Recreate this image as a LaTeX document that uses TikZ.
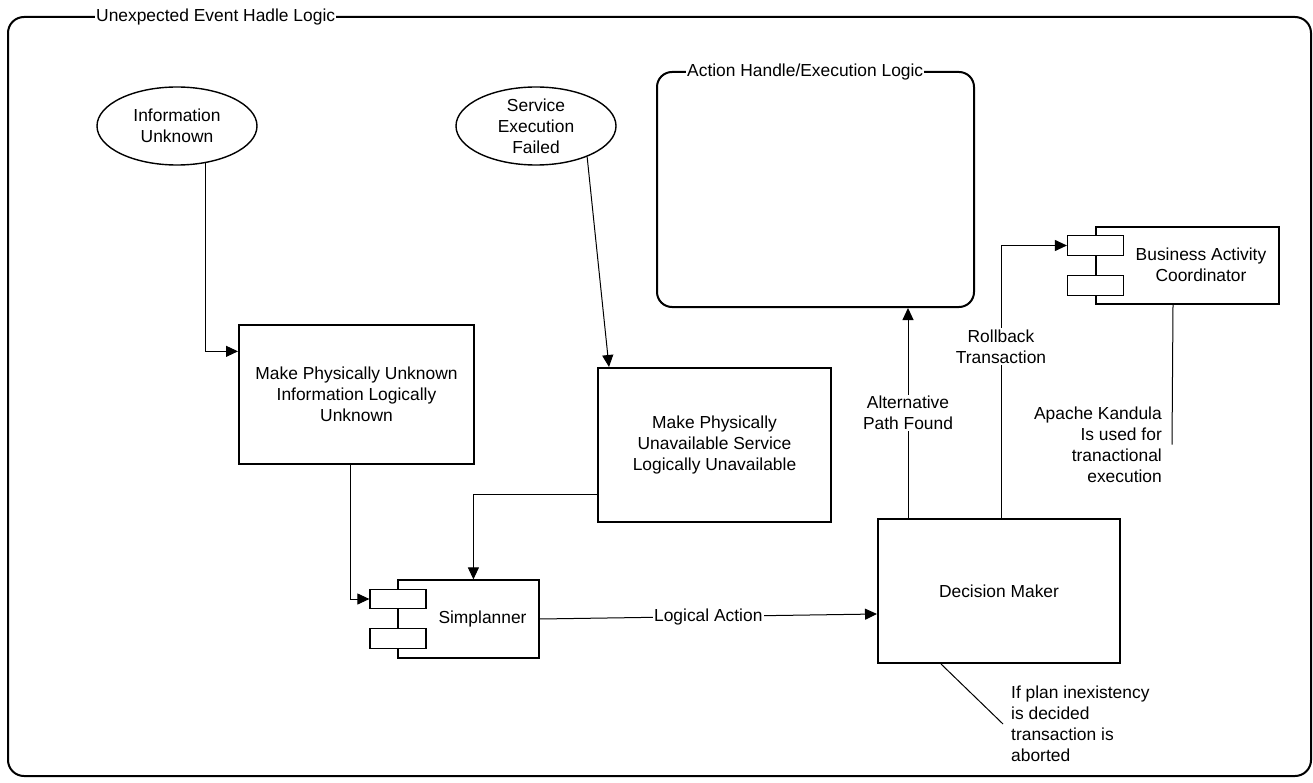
\documentclass[tikz,border=0pt]{standalone}
\usepackage{fontspec}
\setmainfont{Liberation Sans}
\usetikzlibrary{arrows.meta,calc,shapes.geometric}

\begin{document}
\begin{tikzpicture}[x=1pt,y=-1pt,
  every node/.style={font=\fontsize{17.4}{21}\selectfont},
  frame/.style={draw, line width=2pt, rounded corners=16pt, inner sep=0pt},
  frametitle/.style={fill=white, anchor=west, inner sep=1pt},
  event/.style={ellipse, draw, line width=1.4pt, minimum width=160pt, minimum height=78pt, inner sep=0pt, align=center},
  proc/.style={rectangle, draw, line width=2pt, align=center, inner sep=0pt},
  comp/.style={rectangle, draw, line width=1.2pt, inner sep=0pt},
  port/.style={rectangle, draw, fill=white, line width=1.2pt, minimum width=56pt, minimum height=19.5pt, inner sep=0pt},
  conn/.style={line width=1pt},
  arr/.style={conn, -{Triangle[length=12pt,width=11pt]}},
  lbl/.style={fill=white, inner sep=1.5pt, align=center},
  note/.style={inner sep=0pt},
]
\useasboundingbox (0,0) rectangle (1313,783);

% outer frame and nested frame
\node[frame, minimum width=1303pt, minimum height=759pt] (outer) at (659.5,396.5) {};
\node[frametitle] (outerT) at (95,17) {Unexpected Event Hadle Logic};
\node[frame, rounded corners=15pt, minimum width=317pt, minimum height=235pt] (ahl) at (815.5,189.5) {};
\node[frametitle] (ahlT) at (686,72) {Action Handle/Execution Logic};

% events
\node[event] (info) at (177,126) {Information\\Unknown};
\node[event] (sef) at (536,126) {Service\\Execution\\Failed};

% processes
\node[proc, minimum width=235pt, minimum height=139pt] (mpu) at (356.5,394.5)
  {Make Physically Unknown\\Information Logically\\Unknown};
\node[proc, minimum width=233pt, minimum height=154pt] (mpua) at (714.5,445)
  {Make Physically\\Unavailable Service\\Logically Unavailable};
\node[proc, minimum width=242pt, minimum height=144pt] (dm) at (999,591) {Decision Maker};

% components
\node[comp, minimum width=141pt, minimum height=78pt] (simp) at (468.5,619) {};
\node[port] (simpA) at (398,599) {};
\node[port] (simpB) at (398,638.5) {};
\node (simpT) at (482.5,619) {Simplanner};

\node[comp, minimum width=183pt, minimum height=77pt] (bac) at (1187.5,265.5) {};
\node[port] (bacA) at (1095.5,245.5) {};
\node[port] (bacB) at (1095.5,285.5) {};
\node[align=center] (bacT) at (1201,265) {Business Activity\\Coordinator};

% notes
\node[note, anchor=east, align=right] (kand) at (1162,444.5)
  {Apache Kandula\\Is used for\\tranactional\\execution};
\node[note, anchor=west, align=left] (abort) at (1011,724)
  {If plan inexistency\\is decided\\transaction is\\aborted};

% connectors
\draw[arr] (info.-52.5) |- ($(mpu.north west)!0.194!(mpu.south west)$);
\draw[arr] (sef.-31.3) -- ($(mpua.north west)+(12,0)$);
\draw[arr] ($(mpu.south)+(-6.5,0)$) |- (simpA.west);
\draw[arr] ($(mpua.west)+(0,49)$) -| ($(simp.north west)+(76,0)$);
\draw[arr] (simp.east) -- node[lbl] (la) {Logical Action} ($(dm.west)+(0,23)$);
\draw[arr] ($(dm.north west)+(31,0)$) -- node[lbl] (apf) {Alternative\\Path Found}
  ($(ahl.south west)+(252,0)$);
\draw[arr] ($(dm.north west)+(124,0)$) |- node[lbl, pos=0.314] (rt) {Rollback\\Transaction} (bacA.west);

% note attachments
\draw[conn] ($(bac.south)+(-14.5,0)$) -- ($(kand.east)+(10,0)$);
\draw[conn] ($(dm.south west)+(64,0)$) -- ($(abort.west)+(-8,0)$);
\end{tikzpicture}
\end{document}
